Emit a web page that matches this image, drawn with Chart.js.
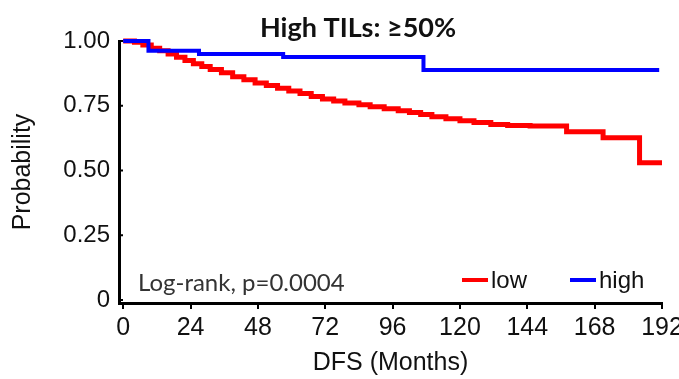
<!DOCTYPE html>
<html>
<head>
<meta charset="utf-8">
<script src="https://cdn.jsdelivr.net/npm/chart.js@4"></script>
<style>
  body { margin: 0; background: #fff; }
  canvas { display: block; }
</style>
</head>
<body>
<canvas id="kmChart" width="679" height="379"></canvas>
<script>
// Kaplan-Meier curves, values
const lowMonths = [0, 4, 7, 10, 13, 16, 19, 22, 25, 28, 31, 35, 39, 43, 47, 51, 55, 59, 63, 67, 71, 75, 79, 84, 88, 93, 98, 102, 106, 110, 115, 120, 125, 131, 137, 145, 158, 171, 184, 192];
const lowSurvival = [1.0, 0.995, 0.985, 0.972, 0.962, 0.95, 0.937, 0.925, 0.912, 0.902, 0.89, 0.877, 0.862, 0.85, 0.838, 0.828, 0.818, 0.807, 0.797, 0.786, 0.776, 0.768, 0.761, 0.754, 0.746, 0.738, 0.731, 0.724, 0.716, 0.708, 0.7, 0.692, 0.685, 0.678, 0.674, 0.672, 0.65, 0.626, 0.53, 0.53];

const highMonths = [0, 9, 27, 57, 107, 191];
const highSurvival = [1.0, 0.962, 0.95, 0.938, 0.888, 0.888];

const xTicks = [0, 24, 48, 72, 96, 120, 144, 168, 192];
const yTicks = [0, 0.25, 0.5, 0.75, 1.0];
const yTickLabels = ['0', '0.25', '0.50', '0.75', '1.00'];

const titleText = 'High TILs: \u226550%';
const pValueText = 'Log-rank, p=0.0004';
const legendLabels = ['low', 'high'];
const lowColor = '#ff0000';
const highColor = '#0000ff';

function toPoints(xs, ys) {
    return xs.map((x, i) => ({ x: x, y: ys[i] }));
}

// title, p-value and legend drawn over the plot
const annotations = {
    id: 'annotations',
    afterDraw(chart) {
        const ctx = chart.ctx;
        const area = chart.chartArea;
        ctx.save();

        ctx.fillStyle = '#111';
        ctx.font = 'bold 27px Lato';
        ctx.textAlign = 'center';
        ctx.textBaseline = 'middle';
        ctx.fillText(titleText, 358, 28);

        ctx.fillStyle = '#333';
        ctx.font = '24px Lato';
        ctx.textAlign = 'left';
        ctx.fillText(pValueText, area.left + 19, area.bottom - 20);

        // legend
        const colors = [lowColor, highColor];
        const starts = [462, 570];
        ctx.font = '24px "Liberation Sans"';
        ctx.lineWidth = 4;
        legendLabels.forEach((label, i) => {
            ctx.strokeStyle = colors[i];
            ctx.beginPath();
            ctx.moveTo(starts[i], area.bottom - 23);
            ctx.lineTo(starts[i] + 26, area.bottom - 23);
            ctx.stroke();
            ctx.fillStyle = '#111';
            ctx.fillText(label, starts[i] + 29, area.bottom - 22);
        });

        // short inward tick marks on the y axis
        const yScale = chart.scales.y;
        ctx.strokeStyle = '#000';
        ctx.lineWidth = 2;
        yTicks.forEach(v => {
            const py = yScale.getPixelForValue(v);
            ctx.beginPath();
            ctx.moveTo(area.left, py);
            ctx.lineTo(area.left + 4, py);
            ctx.stroke();
        });
        ctx.restore();
    }
};

const ctx = document.getElementById('kmChart').getContext('2d');
new Chart(ctx, {
    type: 'line',
    data: {
        datasets: [
            {
                label: legendLabels[1],
                data: toPoints(highMonths, highSurvival),
                borderColor: highColor,
                borderWidth: 4,
                stepped: true,
                pointRadius: 0,
                fill: false,
                clip: false
            },
            {
                label: legendLabels[0],
                data: toPoints(lowMonths, lowSurvival),
                borderColor: lowColor,
                borderWidth: 5,
                stepped: true,
                pointRadius: 0,
                fill: false,
                clip: false
            }
        ]
    },
    options: {
        responsive: false,
        animation: false,
        layout: {
            padding: { top: 41, right: 17, left: 0, bottom: 0 }
        },
        plugins: {
            legend: { display: false },
            tooltip: { enabled: false }
        },
        scales: {
            x: {
                type: 'linear',
                min: -1.5,
                max: 192,
                afterBuildTicks: function(axis) {
                    axis.ticks = xTicks.map(v => ({ value: v }));
                },
                afterFit: function(axis) {
                    axis.height = 76;
                    axis.paddingLeft = 0;
                    axis.paddingRight = 0;
                },
                border: { display: true, color: '#000', width: 3 },
                grid: {
                    drawOnChartArea: false,
                    drawTicks: true,
                    tickLength: 6,
                    color: '#000',
                    lineWidth: 2
                },
                ticks: {
                    autoSkip: false,
                    maxRotation: 0,
                    color: '#111',
                    padding: 4,
                    font: { family: 'Liberation Sans', size: 25 },
                    callback: function(value) { return String(value); }
                },
                title: {
                    display: true,
                    text: 'DFS (Months)',
                    color: '#111',
                    font: { family: 'Liberation Sans', size: 25, lineHeight: 1 },
                    padding: { top: 0, bottom: 3 }
                }
            },
            y: {
                type: 'linear',
                min: -0.0116,
                max: 1.0,
                afterBuildTicks: function(axis) {
                    axis.ticks = yTicks.map(v => ({ value: v }));
                },
                afterFit: function(axis) {
                    axis.width = 119;
                    axis.paddingTop = 0;
                    axis.paddingBottom = 0;
                },
                border: { display: true, color: '#000', width: 3 },
                grid: {
                    drawOnChartArea: false,
                    drawTicks: false
                },
                ticks: {
                    color: '#111',
                    padding: 9,
                    font: { family: 'Liberation Sans', size: 24 },
                    callback: function(value) {
                        const i = yTicks.indexOf(value);
                        return i >= 0 ? yTickLabels[i] : '';
                    }
                },
                title: {
                    display: true,
                    text: 'Probability',
                    color: '#111',
                    font: { family: 'Liberation Sans', size: 25 },
                    padding: { top: 8, bottom: 0 }
                }
            }
        }
    },
    plugins: [annotations]
});
</script>
</body>
</html>
